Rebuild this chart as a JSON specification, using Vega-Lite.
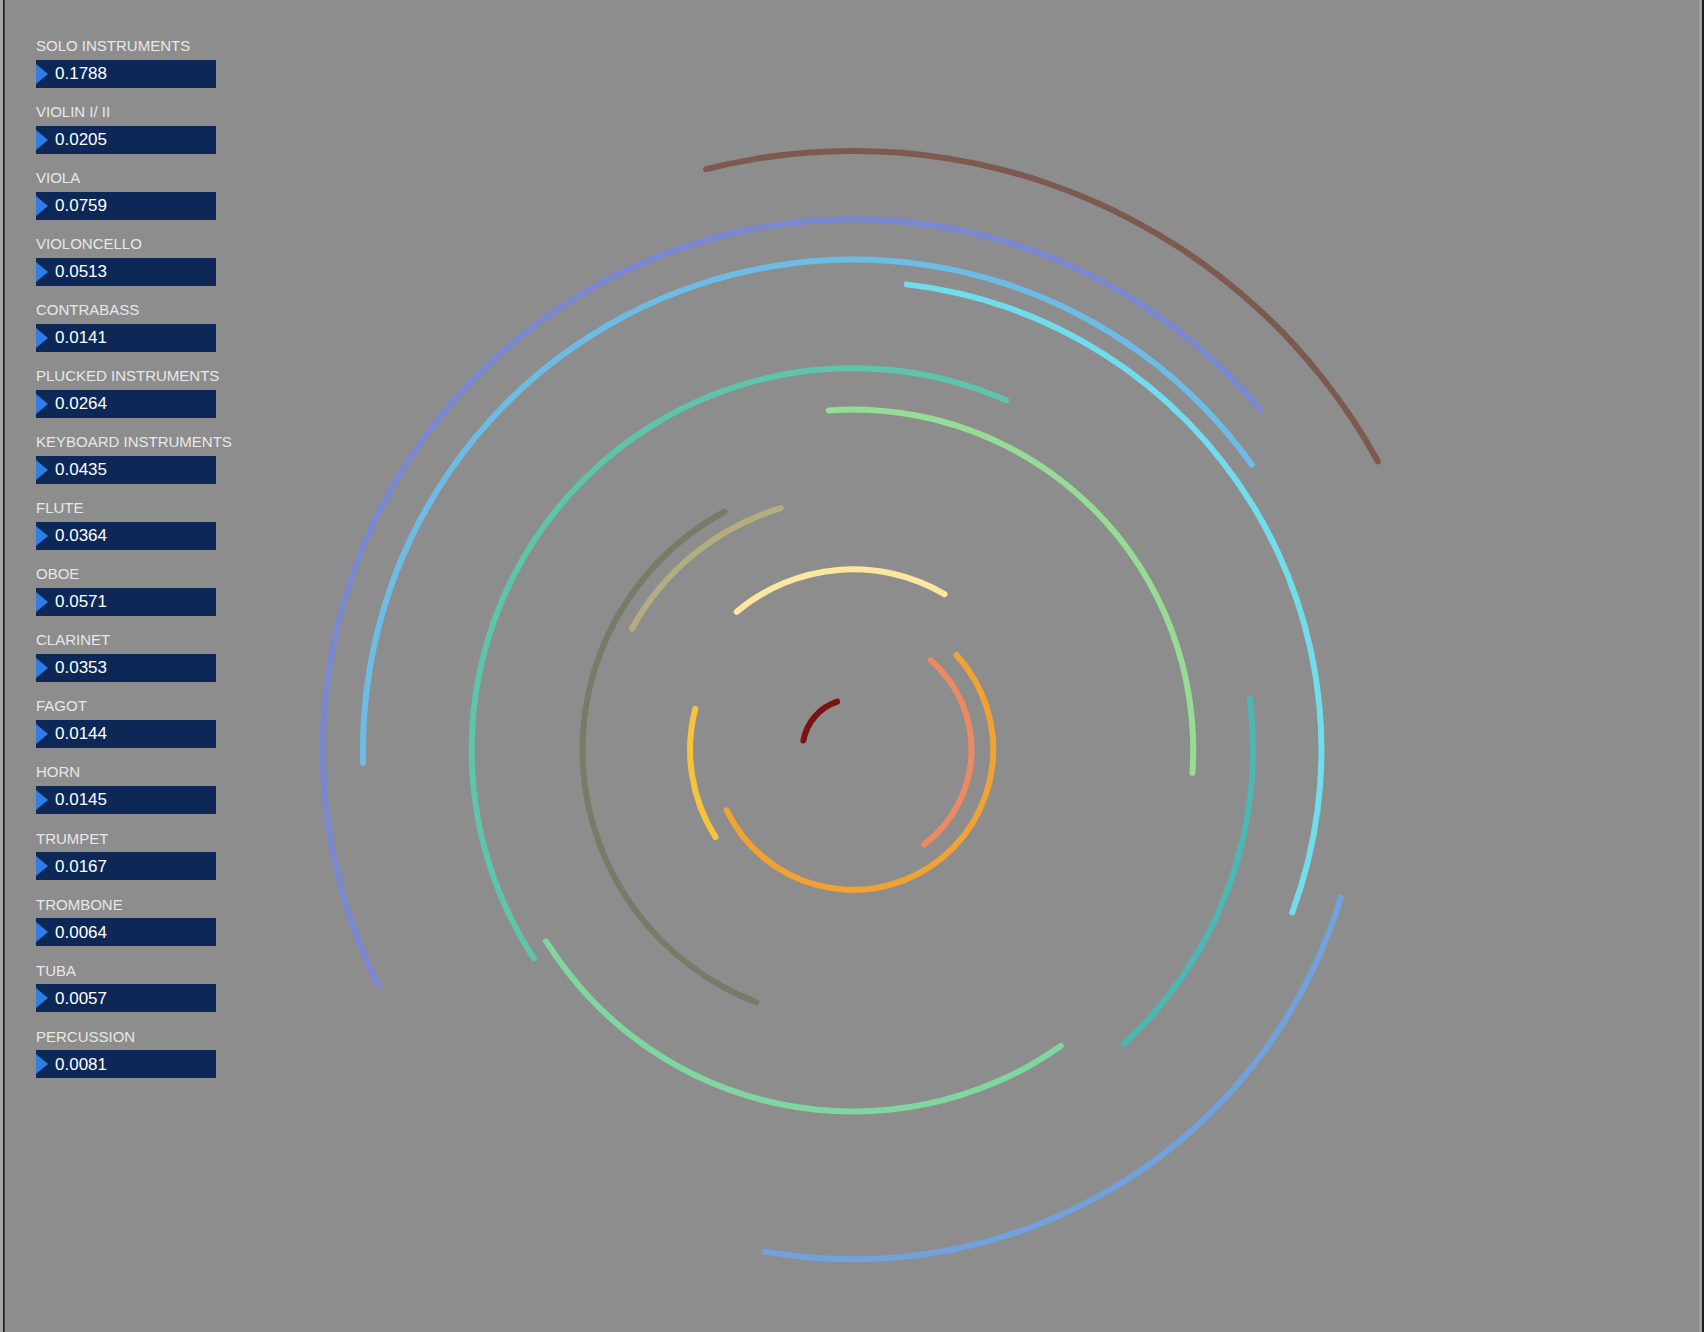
{
  "$schema": "https://vega.github.io/schema/vega-lite/v6.json",
  "width": 1704,
  "height": 1332,
  "padding": 0,
  "autosize": {"type": "none"},
  "background": "#8d8d8d",
  "config": {"view": {"stroke": null}},
  "datasets": {
    "sliders": [
      {"row": 0, "name": "SOLO INSTRUMENTS", "value": 0.1788},
      {"row": 1, "name": "VIOLIN I/ II", "value": 0.0205},
      {"row": 2, "name": "VIOLA", "value": 0.0759},
      {"row": 3, "name": "VIOLONCELLO", "value": 0.0513},
      {"row": 4, "name": "CONTRABASS", "value": 0.0141},
      {"row": 5, "name": "PLUCKED INSTRUMENTS", "value": 0.0264},
      {"row": 6, "name": "KEYBOARD INSTRUMENTS", "value": 0.0435},
      {"row": 7, "name": "FLUTE", "value": 0.0364},
      {"row": 8, "name": "OBOE", "value": 0.0571},
      {"row": 9, "name": "CLARINET", "value": 0.0353},
      {"row": 10, "name": "FAGOT", "value": 0.0144},
      {"row": 11, "name": "HORN", "value": 0.0145},
      {"row": 12, "name": "TRUMPET", "value": 0.0167},
      {"row": 13, "name": "TROMBONE", "value": 0.0064},
      {"row": 14, "name": "TUBA", "value": 0.0057},
      {"row": 15, "name": "PERCUSSION", "value": 0.0081}
    ],
    "arcs": [
      {"part": "SOLO INSTRUMENTS", "r": 551, "start": -14.5, "end": 61.5},
      {"part": "VIOLIN I/ II", "r": 488, "start": 243.3, "end": 410.5},
      {"part": "VIOLA", "r": 469, "start": 106.5, "end": 190.3},
      {"part": "VIOLONCELLO", "r": 451, "start": 268.1, "end": 414.8},
      {"part": "CONTRABASS", "r": 431, "start": 6.2, "end": 110.7},
      {"part": "PLUCKED INSTRUMENTS", "r": 368, "start": 82.2, "end": 137.8},
      {"part": "KEYBOARD INSTRUMENTS", "r": 351, "start": 236.4, "end": 384.1},
      {"part": "FLUTE", "r": 333, "start": 144.5, "end": 238.5},
      {"part": "OBOE", "r": 313, "start": -4.6, "end": 94.4},
      {"part": "CLARINET", "r": 249, "start": 200.3, "end": 332.3},
      {"part": "FAGOT", "r": 232, "start": 298, "end": 344},
      {"part": "HORN", "r": 166, "start": -41.1, "end": 31.4},
      {"part": "TRUMPET", "r": 150, "start": 236.5, "end": 285.5},
      {"part": "TROMBONE", "r": 129, "start": 46.3, "end": 245.6},
      {"part": "TUBA", "r": 109, "start": 39.5, "end": 144.7},
      {"part": "PERCUSSION", "r": 46.5, "start": 277, "end": 345}
    ]
  },
  "layer": [
    {
      "data": {"name": "sliders"},
      "encoding": {
        "x": {"datum": 0, "type": "quantitative", "scale": {"domain": [-0.2, 9.2667], "nice": false, "zero": false, "padding": 0}, "axis": null},
        "y": {"field": "row", "type": "quantitative", "scale": {"domain": [-1.1212, 19.0606], "reverse": true, "nice": false, "zero": false, "padding": 0}, "axis": null}
      },
      "layer": [
        {
          "mark": {"type": "bar", "size": 28, "color": "#0d2857"},
          "encoding": {"x2": {"datum": 1}}
        },
        {
          "mark": {"type": "point", "shape": "M -0.6 -1 L 0.6 0 L -0.6 1 Z", "size": 400, "filled": true, "opacity": 1, "color": "#2f7ee6", "xOffset": 6}
        },
        {
          "mark": {"type": "text", "align": "left", "baseline": "middle", "dy": -27.5, "font": "Liberation Sans", "fontSize": 15, "color": "#e8e8e8"},
          "encoding": {"text": {"field": "name"}}
        },
        {
          "mark": {"type": "text", "align": "left", "baseline": "middle", "dx": 19, "dy": 0.5, "font": "Liberation Sans", "fontSize": 17, "color": "#ffffff"},
          "encoding": {"text": {"field": "value", "type": "quantitative", "format": ".4f"}}
        }
      ]
    },
    {
      "data": {"values": [{}]},
      "layer": [
        {
          "mark": {"type": "rule", "color": "#a6a6a6", "strokeWidth": 3},
          "encoding": {"x": {"datum": 1.5, "type": "quantitative", "scale": {"domain": [0, 1704], "nice": false, "zero": false}, "axis": null}}
        },
        {
          "mark": {"type": "rule", "color": "#a6a6a6", "strokeWidth": 2},
          "encoding": {"x": {"datum": 1700.5, "type": "quantitative"}}
        },
        {
          "mark": {"type": "rule", "color": "#1a1a1a", "strokeWidth": 1.6},
          "encoding": {"x": {"datum": 3.8, "type": "quantitative"}}
        },
        {
          "mark": {"type": "rule", "color": "#1a1a1a", "strokeWidth": 2},
          "encoding": {"x": {"datum": 1703, "type": "quantitative"}}
        }
      ]
    },
    {
      "data": {"name": "arcs"},
      "mark": {"type": "arc", "radiusOffset": 3, "radius2Offset": -3, "cornerRadius": 3},
      "encoding": {
        "x": {"datum": 0, "type": "quantitative", "scale": {"domain": [-785, 783], "nice": false, "zero": false}, "axis": null},
        "y": {"datum": 0, "type": "quantitative", "scale": {"domain": [-536, 690], "nice": false, "zero": false}, "axis": null},
        "theta": {"field": "start", "type": "quantitative", "stack": null, "scale": {"domain": [0, 360], "range": [0, 6.283185307], "nice": false, "zero": false}},
        "theta2": {"field": "end"},
        "radius": {"field": "r", "type": "quantitative", "scale": {"type": "linear", "domain": [0, 1000], "range": [0, 1086.7], "nice": false, "zero": true}},
        "radius2": {"field": "r"},
        "color": {
          "field": "part",
          "type": "nominal",
          "legend": null,
          "scale": {
            "domain": ["SOLO INSTRUMENTS", "VIOLIN I/ II", "VIOLA", "VIOLONCELLO", "CONTRABASS", "PLUCKED INSTRUMENTS", "KEYBOARD INSTRUMENTS", "FLUTE", "OBOE", "CLARINET", "FAGOT", "HORN", "TRUMPET", "TROMBONE", "TUBA", "PERCUSSION"],
            "range": ["#7c5a50", "#7a88d2", "#72a2dc", "#6cbce6", "#70dcec", "#4cb8b2", "#5ec4aa", "#7fd6a0", "#96dc96", "#787b68", "#b4ad80", "#fce7a0", "#f6c43c", "#f0a232", "#ec8a64", "#7b1212"]
          }
        }
      }
    }
  ],
  "resolve": {"scale": {"x": "independent", "y": "independent"}}
}
